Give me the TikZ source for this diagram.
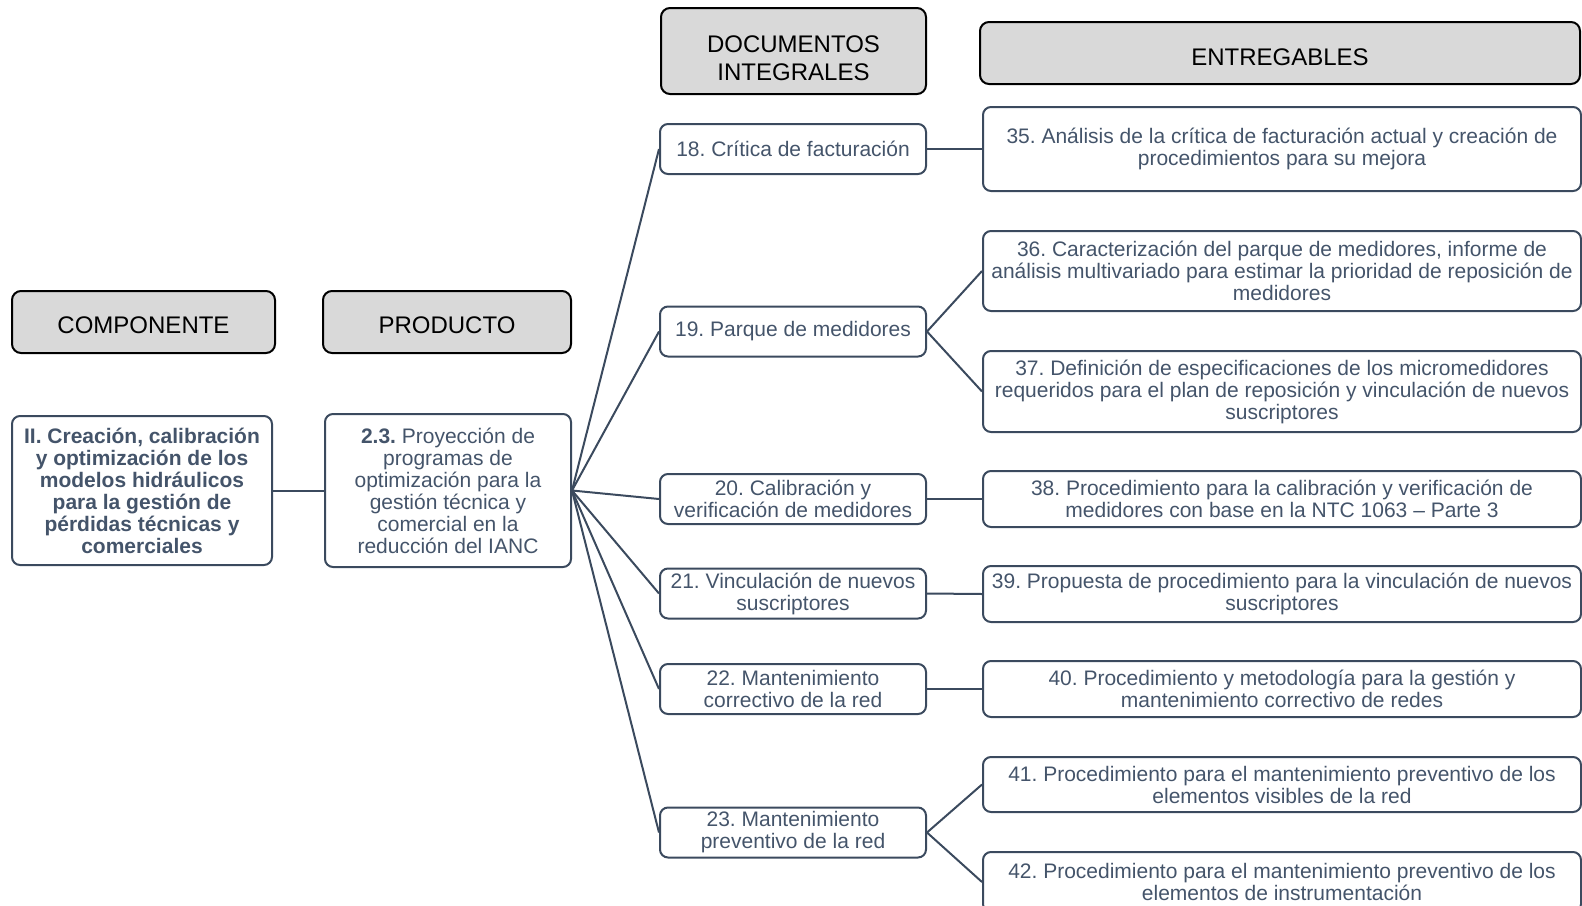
\documentclass[tikz,border=0pt]{standalone}
\usepackage{fontspec}
\setmainfont{Liberation Sans}
\frenchspacing
\usetikzlibrary{positioning, calc}
\definecolor{pizarra}{HTML}{44546A}
\definecolor{borde}{HTML}{3B4A5E}
\definecolor{gris}{HTML}{D9D9D9}

\begin{document}
\begin{tikzpicture}[x=1pt, y=-1pt,
		encabezado/.style={draw=black, fill=gris, line width=2pt, rounded corners=9pt, inner sep=0pt},
		titulo/.style={inner sep=0pt, align=center, font=\fontsize{24}{28}\selectfont},
		caja/.style={draw=borde, line width=2pt, rounded corners=8pt, inner sep=0pt, align=center, text=pizarra, font=\fontsize{21}{22}\selectfont},
		enlace/.style={draw=borde, line width=2pt}]
		\useasboundingbox (0,0) rectangle (1582,905);
		\clip (0,0) rectangle (1582,905);

		\node[encabezado, minimum width=263pt, minimum height=62pt] (hcomp) at (143.5,322) {};
		\node[encabezado, minimum width=248pt, minimum height=62pt] (hprod) at (447,322) {};
		\node[encabezado, minimum width=265pt, minimum height=86pt] (hdoc) at (793.5,51) {};
		\node[encabezado, minimum width=600pt, minimum height=62pt] (hent) at (1280,53) {};
		\node[titulo] (hcomp-t) at ($(hcomp.center)+(0,3)$) {COMPONENTE};
		\node[titulo] (hprod-t) at ($(hprod.center)+(0,3)$) {PRODUCTO};
		\node[titulo] (hdoc-t) at ($(hdoc.center)+(0,7)$) {DOCUMENTOS\\INTEGRALES};
		\node[titulo] (hent-t) at ($(hent.center)+(0,4)$) {ENTREGABLES};

		\node[caja, minimum width=260pt, minimum height=149pt, font=\fontsize{21}{22}\selectfont\bfseries] (comp) at (142,490.5)
			{II. Creación, calibración\\y optimización de los\\modelos hidráulicos\\para la gestión de\\pérdidas técnicas y\\comerciales};
		\node[caja, minimum width=246pt, minimum height=153pt] (prod) at (448,490.5)
			{\textbf{2.3.} Proyección de\\programas de\\optimización para la\\gestión técnica y\\comercial en la\\reducción del IANC};

		\node[caja, minimum width=266pt, minimum height=50pt] (d18) at (793,149) {18. Crítica de facturación};
		\node[caja, minimum width=266pt, minimum height=50pt] (d19) at (793,331.5) {19. Parque de medidores};
		\node[caja, minimum width=266pt, minimum height=50pt] (d20) at (793,499) {20. Calibración y\\verificación de medidores};
		\node[caja, minimum width=266pt, minimum height=50pt] (d21) at (793,593.5) {21. Vinculación de nuevos\\suscriptores};
		\node[caja, minimum width=266pt, minimum height=50pt] (d22) at (793,689) {22. Mantenimiento\\correctivo de la red};
		\node[caja, minimum width=266pt, minimum height=50pt] (d23) at (793,832.5) {23. Mantenimiento\\preventivo de la red};

		\node[caja, minimum width=598pt, minimum height=84pt] (e35) at (1282,149)
			{35. Análisis de la crítica de facturación actual y creación de\\procedimientos para su mejora};
		\node[caja, minimum width=598pt, minimum height=80pt] (e36) at (1282,271)
			{36. Caracterización del parque de medidores, informe de\\análisis multivariado para estimar la prioridad de reposición de\\medidores};
		\node[caja, minimum width=598pt, minimum height=81pt] (e37) at (1282,391.5)
			{37. Definición de especificaciones de los micromedidores\\requeridos para el plan de reposición y vinculación de nuevos\\suscriptores};
		\node[caja, minimum width=598pt, minimum height=56pt] (e38) at (1282,499)
			{38. Procedimiento para la calibración y verificación de\\medidores con base en la NTC 1063 -- Parte 3};
		\node[caja, minimum width=598pt, minimum height=56pt] (e39) at (1282,594)
			{39. Propuesta de procedimiento para la vinculación de nuevos\\suscriptores};
		\node[caja, minimum width=598pt, minimum height=56pt] (e40) at (1282,689)
			{40. Procedimiento y metodología para la gestión y\\mantenimiento correctivo de redes};
		\node[caja, minimum width=598pt, minimum height=55pt] (e41) at (1282,784.5)
			{41. Procedimiento para el mantenimiento preventivo de los\\elementos visibles de la red};
		\node[caja, minimum width=598pt, minimum height=60pt] (e42) at (1282,882)
			{42. Procedimiento para el mantenimiento preventivo de los\\elementos de instrumentación};

		\draw[enlace] (comp.east) -- (prod.west);
		\foreach \d in {d18,d19,d20,d21,d22,d23}
			\draw[enlace] (prod.east) -- (\d.west);
		\draw[enlace] (d18.east) -- (e35.west);
		\draw[enlace] (d19.east) -- (e36.west);
		\draw[enlace] (d19.east) -- (e37.west);
		\draw[enlace] (d20.east) -- (e38.west);
		\draw[enlace] (d21.east) -- (e39.west);
		\draw[enlace] (d22.east) -- (e40.west);
		\draw[enlace] (d23.east) -- (e41.west);
		\draw[enlace] (d23.east) -- (e42.west);
	\end{tikzpicture}
\end{document}
